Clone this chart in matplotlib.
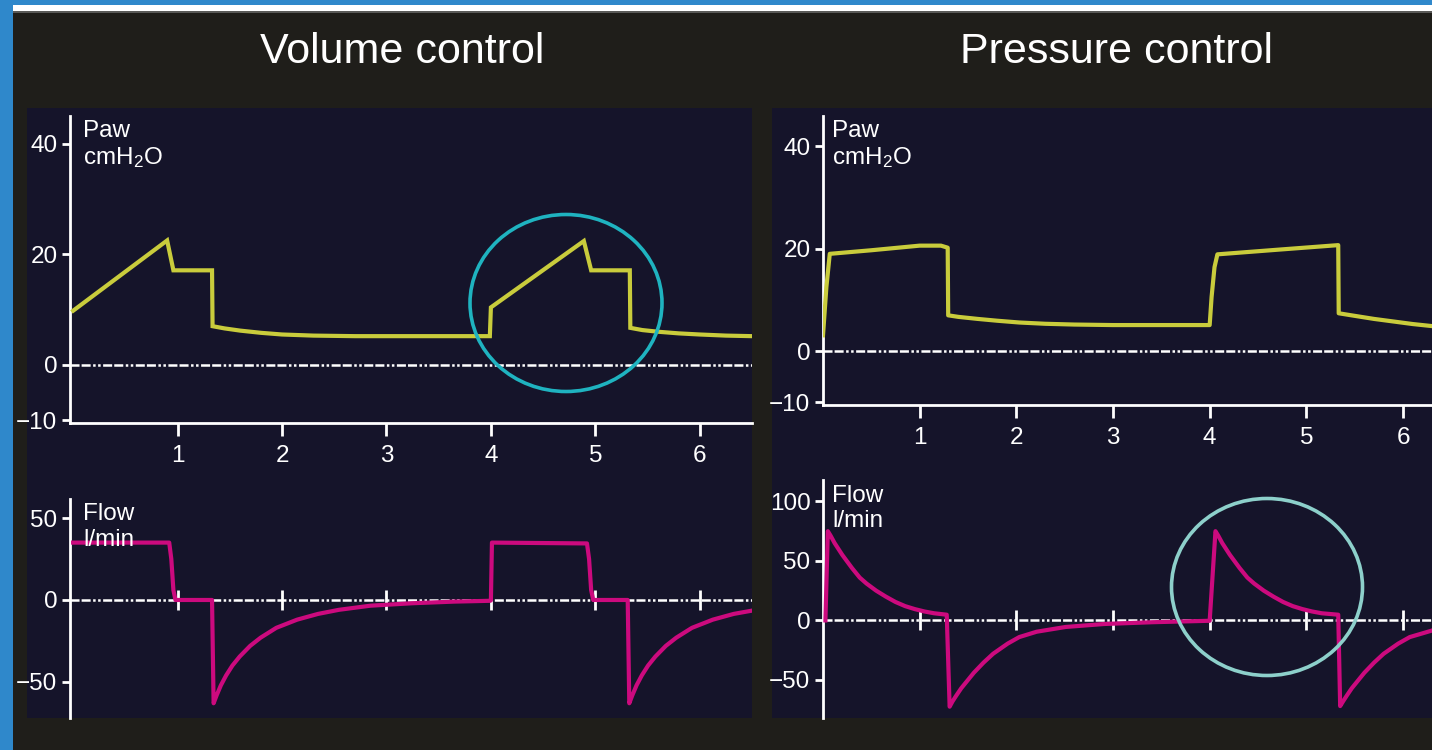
import matplotlib.pyplot as plt
from matplotlib.patches import Rectangle, Ellipse

plt.rcParams['font.family'] = ['Liberation Sans', 'DejaVu Sans']
plt.rcParams['mathtext.default'] = 'regular'
plt.rcParams['lines.scale_dashes'] = False

# Volume control waveforms (time in s)
vc_paw_t = [0.0, 0.90, 0.96, 1.33, 1.335, 1.45, 1.6, 1.8, 2.0, 2.3, 2.7, 3.2, 3.99,
            4.0, 4.89, 4.96, 5.33, 5.335, 5.45, 5.6, 5.8, 6.0, 6.25, 6.5]
vc_paw = [9.8, 22.5, 17.1, 17.1, 7.0, 6.6, 6.2, 5.8, 5.5, 5.3, 5.2, 5.2, 5.2,
          10.4, 22.4, 17.1, 17.1, 6.7, 6.3, 6.0, 5.7, 5.5, 5.3, 5.2]

vc_flow_t = [0.0, 0.92, 0.94, 0.96, 0.98, 1.33, 1.345, 1.375, 1.415, 1.465, 1.525,
             1.595, 1.695, 1.795, 1.945, 2.145, 2.345, 2.545, 2.845, 3.245, 3.645, 3.99,
             4.0, 4.01, 4.92, 4.94, 4.96, 4.98, 5.31, 5.325, 5.355, 5.395, 5.445,
             5.505, 5.575, 5.675, 5.775, 5.925, 6.125, 6.325, 6.5]
vc_flow = [35, 35, 25, 6, 0, 0, -63, -58, -52, -46, -40,
           -34.5, -28, -23, -17, -12, -8.5, -6, -3.5, -2, -1, -0.5,
           -0.3, 35, 34.5, 25, 6, 0, 0, -63, -58, -52, -46,
           -40, -34.5, -28, -23, -17, -12, -8.5, -6.5]

# Pressure control waveforms
pc_paw_t = [0.0, 0.035, 0.07, 0.5, 1.0, 1.22, 1.29, 1.295, 1.4, 1.6, 1.8, 2.03,
            2.3, 2.6, 3.0, 3.5, 4.0, 4.02, 4.05, 4.08, 4.7, 5.33, 5.335, 5.5,
            5.7, 5.9, 6.1, 6.3]
pc_paw = [3.1, 12.5, 19.0, 19.7, 20.6, 20.6, 20.2, 7.0, 6.7, 6.3, 5.95, 5.6,
          5.35, 5.2, 5.1, 5.1, 5.1, 10.6, 16.4, 18.9, 19.8, 20.7, 7.4, 6.9,
          6.3, 5.8, 5.3, 4.9]

pc_flow_t = [0.025, 0.05, 0.08, 0.12, 0.16, 0.2, 0.25, 0.3, 0.38, 0.45, 0.55, 0.65,
             0.75, 0.85, 0.95, 1.05, 1.15, 1.28, 1.31, 1.34, 1.38, 1.43, 1.49,
             1.56, 1.66, 1.76, 1.91, 2.03, 2.21, 2.51, 2.91, 3.41, 4.0,
             4.06, 4.09, 4.13, 4.17, 4.21, 4.26, 4.31, 4.39, 4.46, 4.56, 4.66,
             4.76, 4.86, 4.96, 5.06, 5.16, 5.33, 5.35, 5.38, 5.42, 5.47, 5.53,
             5.6, 5.7, 5.8, 5.95, 6.07, 6.3]
pc_flow = [0, 75, 71, 65, 60, 55, 49.5, 44, 36, 31, 25, 20,
           15.5, 12, 9.5, 7.5, 6, 4.8, -72.5, -68, -63, -57, -51,
           -44, -35.5, -28, -19.5, -14, -9.5, -5.5, -3, -1.5, -0.3,
           75, 71, 65, 60, 55, 49.5, 44, 36, 31, 25, 20,
           15.5, 12, 9.5, 7.5, 6, 4.8, -72, -68, -63, -57, -51,
           -44, -35.5, -28, -19.5, -14, -8.5]

x_ticks = [1, 2, 3, 4, 5, 6]
W, H = 1432, 750
YELLOW = '#c9cc3c'
MAGENTA = '#cc0a7e'

fig = plt.figure(figsize=(W / 100, H / 100), dpi=100, facecolor='#1f1e1a')


def px_rect(x0, y0, x1, y1, color):
    fig.add_artist(Rectangle((x0 / W, 1 - y1 / H), (x1 - x0) / W, (y1 - y0) / H,
                             transform=fig.transFigure, color=color, lw=0, zorder=0))


# frame and panels
px_rect(0, 0, W, 5, '#2f88cb')
px_rect(0, 0, 13, H, '#2f88cb')
px_rect(13, 5, W, 11, 'white')
px_rect(13, 11, W, 12.5, '#5a5a58')
px_rect(27, 108, 752, 718, '#15142a')
px_rect(772, 108, W, 718, '#15142a')


def make_axes(x0, y0, x1, y1):
    ax = fig.add_axes([x0 / W, 1 - y1 / H, (x1 - x0) / W, (y1 - y0) / H])
    ax.set_facecolor('none')
    ax.spines['top'].set_visible(False)
    ax.spines['right'].set_visible(False)
    ax.spines['left'].set_color('white')
    ax.spines['left'].set_linewidth(2)
    ax.spines['bottom'].set_color('white')
    ax.spines['bottom'].set_linewidth(2)
    ax.tick_params(colors='white', labelsize=17.5, width=2)
    ax.tick_params(axis='y', length=6, pad=3)
    ax.set_xticks(x_ticks)
    return ax


def zero_line(ax):
    ax.axhline(0, color='white', lw=1.8,
               linestyle=(0, (6.5, 1.5, 6.5, 1.8, 1.8, 1.8, 1.8, 1.8)), zorder=1)


def paw_axes(ax, yticks):
    ax.set_yticks(yticks)
    ax.tick_params(axis='x', length=9, pad=7)
    zero_line(ax)


def flow_axes(ax, yticks):
    ax.set_yticks(yticks)
    ax.spines['bottom'].set_position(('data', 0))
    ax.spines['bottom'].set_visible(False)
    ax.tick_params(axis='x', direction='inout', length=14, labelbottom=False)
    zero_line(ax)


# Volume control
ax1 = make_axes(70, 116, 752, 423)
ax1.set_xlim(-0.03, 6.5)
ax1.set_ylim(-10.5, 45)
paw_axes(ax1, [-10, 0, 20, 40])
ax1.plot(vc_paw_t, vc_paw, color=YELLOW, lw=3, solid_joinstyle='miter', zorder=3)

ax2 = make_axes(70, 499, 752, 718)
ax2.set_xlim(-0.03, 6.5)
ax2.set_ylim(-72, 61.6)
flow_axes(ax2, [-50, 0, 50])
ax2.plot(vc_flow_t, vc_flow, color=MAGENTA, lw=3, zorder=3)

# Pressure control
ax3 = make_axes(823, 116, W, 405)
ax3.set_xlim(0, 6.3)
ax3.set_ylim(-10.5, 45.9)
paw_axes(ax3, [-10, 0, 20, 40])
ax3.plot(pc_paw_t, pc_paw, color=YELLOW, lw=3, zorder=3)

ax4 = make_axes(823, 480, W, 718)
ax4.set_xlim(0, 6.3)
ax4.set_ylim(-82, 118)
flow_axes(ax4, [-50, 0, 50, 100])
ax4.plot(pc_flow_t, pc_flow, color=MAGENTA, lw=3, zorder=3)

# titles and axis labels
fig.text(402 / W, 1 - 52 / H, 'Volume control', color='white', fontsize=31,
         ha='center', va='center')
fig.text(1116 / W, 1 - 52 / H, 'Pressure control', color='white', fontsize=31,
         ha='center', va='center')

labels = [(83, 137, 'Paw'), (83, 164, 'cmH$_\\mathregular{2}$O'),
          (83, 520, 'Flow'), (83, 546, 'l/min'),
          (832, 137, 'Paw'), (832, 164, 'cmH$_\\mathregular{2}$O'),
          (832, 502, 'Flow'), (832, 527, 'l/min')]
for x, y, s in labels:
    fig.text(x / W, 1 - y / H, s, color='white', fontsize=17.5, va='baseline')

# highlight circles
fig.add_artist(Ellipse((566 / W, 1 - 303 / H), 192 / W, 177 / H, transform=fig.transFigure,
                       fill=False, ec='#1fb3c0', lw=2.6, zorder=5))
fig.add_artist(Ellipse((1267 / W, 1 - 587 / H), 191 / W, 177 / H, transform=fig.transFigure,
                       fill=False, ec='#8dd0cb', lw=2.6, zorder=5))

fig.savefig('out.png', dpi=100, facecolor=fig.get_facecolor())
